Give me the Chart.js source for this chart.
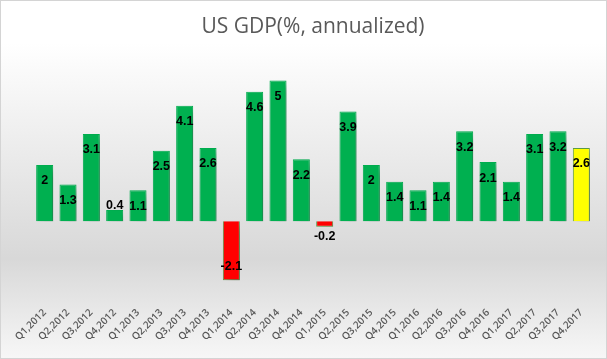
<!DOCTYPE html>
<html>
<head>
<meta charset="utf-8">
<script src="https://cdn.jsdelivr.net/npm/chart.js@4"></script>
<style>
html,body{margin:0;padding:0;background:#fff;}
#wrap{width:607px;height:359px;position:relative;}
</style>
</head>
<body>
<div id="wrap"><canvas id="c" width="607" height="359"></canvas></div>
<script>
const categories = ["Q1,2012","Q2,2012","Q3,2012","Q4,2012","Q1,2013","Q2,2013","Q3,2013","Q4,2013",
  "Q1,2014","Q2,2014","Q3,2014","Q4,2014","Q1,2015","Q2,2015","Q3,2015","Q4,2015",
  "Q1,2016","Q2,2016","Q3,2016","Q4,2016","Q1,2017","Q2,2017","Q3,2017","Q4,2017"];
const gdpValues = [2, 1.3, 3.1, 0.4, 1.1, 2.5, 4.1, 2.6, -2.1, 4.6, 5, 2.2, -0.2, 3.9, 2, 1.4, 1.1, 1.4, 3.2, 2.1, 1.4, 3.1, 3.2, 2.6];
const titleText = "US GDP(%, annualized)";

const lastIdx = gdpValues.length - 1;
const fillColors = gdpValues.map((v, i) => i === lastIdx ? '#FFFF00' : (v < 0 ? '#FF0000' : '#00B050'));
const borderColors = gdpValues.map((v, i) => (i === lastIdx || v < 0) ? '#5E9E45' : '#00B050');

const bgPlugin = {
  id: 'bg',
  beforeDraw(chart) {
    const ctx = chart.ctx, w = chart.width, h = chart.height;
    ctx.save();
    const g = ctx.createLinearGradient(0, 0, 0, h);
    g.addColorStop(0, '#ffffff');
    g.addColorStop(0.12, '#ffffff');
    g.addColorStop(0.72, '#d8d8d8');
    g.addColorStop(1, '#f7f7f7');
    ctx.fillStyle = g;
    ctx.fillRect(0, 0, w, h);
    ctx.strokeStyle = '#d4d4d4';
    ctx.lineWidth = 1;
    ctx.strokeRect(0.5, 0.5, w - 1, h - 1);
    ctx.restore();
  },
  beforeDatasetsDraw(chart) {
    const ctx = chart.ctx;
    ctx.save();
    ctx.shadowColor = 'rgba(0,0,0,0.3)';
    ctx.shadowBlur = 9;
    ctx.shadowOffsetX = 5;
    ctx.shadowOffsetY = 5;
  },
  afterDatasetsDraw(chart) {
    const ctx = chart.ctx;
    ctx.restore();
    const meta = chart.getDatasetMeta(0);
    ctx.save();
    ctx.font = 'bold 12.5px "Liberation Sans", Arial, sans-serif';
    ctx.fillStyle = '#000000';
    ctx.textAlign = 'center';
    ctx.textBaseline = 'middle';
    meta.data.forEach((bar, i) => {
      const v = gdpValues[i];
      const hgt = Math.abs(bar.base - bar.y);
      let y;
      if (v >= 0) {
        y = hgt >= 26 ? bar.y + 16 : bar.y - 4;
      } else {
        y = hgt >= 26 ? bar.y - 14 : bar.y + 10;
      }
      ctx.fillText(String(v), bar.x, y);
    });
    ctx.restore();
  }
};

new Chart(document.getElementById('c'), {
  type: 'bar',
  data: {
    labels: categories,
    datasets: [{
      data: gdpValues,
      backgroundColor: fillColors,
      borderColor: borderColors,
      borderWidth: 1,
      barPercentage: 0.73,
      categoryPercentage: 1.0
    }]
  },
  plugins: [bgPlugin],
  options: {
    responsive: false,
    animation: false,
    devicePixelRatio: 1,
    layout: { padding: { left: 33, right: 14, top: 8, bottom: 10 } },
    plugins: {
      legend: { display: false },
      tooltip: { enabled: false },
      title: {
        display: true,
        text: titleText,
        color: '#595959',
        font: { family: '"Open Sans", sans-serif', size: 21, weight: 'normal' },
        padding: { top: 6, bottom: 16 }
      }
    },
    scales: {
      x: {
        grid: { display: false, drawTicks: false },
        border: { display: false },
        ticks: {
          minRotation: 45, maxRotation: 45,
          autoSkip: false,
          color: '#595959',
          padding: 6,
          font: { family: '"Open Sans", sans-serif', size: 10, weight: '600' }
        }
      },
      y: {
        display: false,
        min: -2.83,
        max: 5.9
      }
    }
  }
});
</script>
</body>
</html>
